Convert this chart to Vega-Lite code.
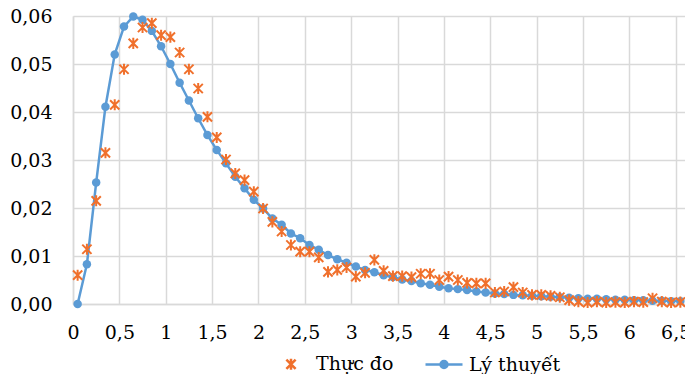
{
  "$schema": "https://vega.github.io/schema/vega-lite/v6.json",
  "width": 612,
  "height": 288,
  "autosize": "none",
  "padding": {"left": 73, "top": 16, "right": 0, "bottom": 70},
  "background": "white",
  "config": {
    "font": "DejaVu Serif",
    "view": {"stroke": null},
    "axis": {
      "labelFont": "DejaVu Serif",
      "labelFontSize": 19,
      "labelColor": "#000000",
      "gridColor": "#D9D9D9",
      "gridWidth": 1.5,
      "domainColor": "#D9D9D9",
      "domainWidth": 1.5,
      "ticks": false,
      "tickSize": 0,
      "title": null
    },
    "legend": {
      "labelFont": "DejaVu Serif",
      "labelFontSize": 19,
      "labelColor": "#000000"
    }
  },
  "data": {
    "values": [
      {"x": 0.05, "y": 0.0000, "series": "Lý thuyết"},
      {"x": 0.15, "y": 0.0083, "series": "Lý thuyết"},
      {"x": 0.25, "y": 0.0253, "series": "Lý thuyết"},
      {"x": 0.35, "y": 0.0411, "series": "Lý thuyết"},
      {"x": 0.45, "y": 0.0520, "series": "Lý thuyết"},
      {"x": 0.55, "y": 0.0578, "series": "Lý thuyết"},
      {"x": 0.65, "y": 0.0599, "series": "Lý thuyết"},
      {"x": 0.75, "y": 0.0592, "series": "Lý thuyết"},
      {"x": 0.85, "y": 0.0569, "series": "Lý thuyết"},
      {"x": 0.95, "y": 0.0537, "series": "Lý thuyết"},
      {"x": 1.05, "y": 0.0500, "series": "Lý thuyết"},
      {"x": 1.15, "y": 0.0461, "series": "Lý thuyết"},
      {"x": 1.25, "y": 0.0424, "series": "Lý thuyết"},
      {"x": 1.35, "y": 0.0387, "series": "Lý thuyết"},
      {"x": 1.45, "y": 0.0352, "series": "Lý thuyết"},
      {"x": 1.55, "y": 0.0321, "series": "Lý thuyết"},
      {"x": 1.65, "y": 0.0293, "series": "Lý thuyết"},
      {"x": 1.75, "y": 0.0265, "series": "Lý thuyết"},
      {"x": 1.85, "y": 0.0241, "series": "Lý thuyết"},
      {"x": 1.95, "y": 0.0217, "series": "Lý thuyết"},
      {"x": 2.05, "y": 0.0199, "series": "Lý thuyết"},
      {"x": 2.15, "y": 0.0178, "series": "Lý thuyết"},
      {"x": 2.25, "y": 0.0165, "series": "Lý thuyết"},
      {"x": 2.35, "y": 0.0147, "series": "Lý thuyết"},
      {"x": 2.45, "y": 0.0137, "series": "Lý thuyết"},
      {"x": 2.55, "y": 0.0123, "series": "Lý thuyết"},
      {"x": 2.65, "y": 0.0113, "series": "Lý thuyết"},
      {"x": 2.75, "y": 0.0102, "series": "Lý thuyết"},
      {"x": 2.85, "y": 0.0093, "series": "Lý thuyết"},
      {"x": 2.95, "y": 0.0086, "series": "Lý thuyết"},
      {"x": 3.05, "y": 0.0078, "series": "Lý thuyết"},
      {"x": 3.15, "y": 0.0071, "series": "Lý thuyết"},
      {"x": 3.25, "y": 0.0066, "series": "Lý thuyết"},
      {"x": 3.35, "y": 0.0060, "series": "Lý thuyết"},
      {"x": 3.45, "y": 0.0056, "series": "Lý thuyết"},
      {"x": 3.55, "y": 0.0051, "series": "Lý thuyết"},
      {"x": 3.65, "y": 0.0048, "series": "Lý thuyết"},
      {"x": 3.75, "y": 0.0043, "series": "Lý thuyết"},
      {"x": 3.85, "y": 0.0040, "series": "Lý thuyết"},
      {"x": 3.95, "y": 0.0036, "series": "Lý thuyết"},
      {"x": 4.05, "y": 0.0033, "series": "Lý thuyết"},
      {"x": 4.15, "y": 0.0031, "series": "Lý thuyết"},
      {"x": 4.25, "y": 0.0029, "series": "Lý thuyết"},
      {"x": 4.35, "y": 0.0026, "series": "Lý thuyết"},
      {"x": 4.45, "y": 0.0024, "series": "Lý thuyết"},
      {"x": 4.55, "y": 0.0022, "series": "Lý thuyết"},
      {"x": 4.65, "y": 0.0021, "series": "Lý thuyết"},
      {"x": 4.75, "y": 0.0019, "series": "Lý thuyết"},
      {"x": 4.85, "y": 0.0018, "series": "Lý thuyết"},
      {"x": 4.95, "y": 0.0017, "series": "Lý thuyết"},
      {"x": 5.05, "y": 0.0016, "series": "Lý thuyết"},
      {"x": 5.15, "y": 0.0015, "series": "Lý thuyết"},
      {"x": 5.25, "y": 0.0014, "series": "Lý thuyết"},
      {"x": 5.35, "y": 0.0013, "series": "Lý thuyết"},
      {"x": 5.45, "y": 0.0012, "series": "Lý thuyết"},
      {"x": 5.55, "y": 0.0011, "series": "Lý thuyết"},
      {"x": 5.65, "y": 0.0011, "series": "Lý thuyết"},
      {"x": 5.75, "y": 0.0010, "series": "Lý thuyết"},
      {"x": 5.85, "y": 0.0009, "series": "Lý thuyết"},
      {"x": 5.95, "y": 0.0009, "series": "Lý thuyết"},
      {"x": 6.05, "y": 0.0008, "series": "Lý thuyết"},
      {"x": 6.15, "y": 0.0008, "series": "Lý thuyết"},
      {"x": 6.25, "y": 0.0007, "series": "Lý thuyết"},
      {"x": 6.35, "y": 0.0007, "series": "Lý thuyết"},
      {"x": 6.45, "y": 0.0006, "series": "Lý thuyết"},
      {"x": 6.55, "y": 0.0006, "series": "Lý thuyết"},
      {"x": 0.05, "y": 0.0060, "series": "Thực đo"},
      {"x": 0.15, "y": 0.0114, "series": "Thực đo"},
      {"x": 0.25, "y": 0.0215, "series": "Thực đo"},
      {"x": 0.35, "y": 0.0315, "series": "Thực đo"},
      {"x": 0.45, "y": 0.0415, "series": "Thực đo"},
      {"x": 0.55, "y": 0.0489, "series": "Thực đo"},
      {"x": 0.65, "y": 0.0543, "series": "Thực đo"},
      {"x": 0.75, "y": 0.0576, "series": "Thực đo"},
      {"x": 0.85, "y": 0.0585, "series": "Thực đo"},
      {"x": 0.95, "y": 0.0560, "series": "Thực đo"},
      {"x": 1.05, "y": 0.0556, "series": "Thực đo"},
      {"x": 1.15, "y": 0.0524, "series": "Thực đo"},
      {"x": 1.25, "y": 0.0489, "series": "Thực đo"},
      {"x": 1.35, "y": 0.0449, "series": "Thực đo"},
      {"x": 1.45, "y": 0.0390, "series": "Thực đo"},
      {"x": 1.55, "y": 0.0347, "series": "Thực đo"},
      {"x": 1.65, "y": 0.0301, "series": "Thực đo"},
      {"x": 1.75, "y": 0.0272, "series": "Thực đo"},
      {"x": 1.85, "y": 0.0258, "series": "Thực đo"},
      {"x": 1.95, "y": 0.0234, "series": "Thực đo"},
      {"x": 2.05, "y": 0.0199, "series": "Thực đo"},
      {"x": 2.15, "y": 0.0171, "series": "Thực đo"},
      {"x": 2.25, "y": 0.0151, "series": "Thực đo"},
      {"x": 2.35, "y": 0.0123, "series": "Thực đo"},
      {"x": 2.45, "y": 0.0109, "series": "Thực đo"},
      {"x": 2.55, "y": 0.0109, "series": "Thực đo"},
      {"x": 2.65, "y": 0.0097, "series": "Thực đo"},
      {"x": 2.75, "y": 0.0067, "series": "Thực đo"},
      {"x": 2.85, "y": 0.0071, "series": "Thực đo"},
      {"x": 2.95, "y": 0.0076, "series": "Thực đo"},
      {"x": 3.05, "y": 0.0057, "series": "Thực đo"},
      {"x": 3.15, "y": 0.0065, "series": "Thực đo"},
      {"x": 3.25, "y": 0.0092, "series": "Thực đo"},
      {"x": 3.35, "y": 0.0069, "series": "Thực đo"},
      {"x": 3.45, "y": 0.0058, "series": "Thực đo"},
      {"x": 3.55, "y": 0.0058, "series": "Thực đo"},
      {"x": 3.65, "y": 0.0056, "series": "Thực đo"},
      {"x": 3.75, "y": 0.0063, "series": "Thực đo"},
      {"x": 3.85, "y": 0.0063, "series": "Thực đo"},
      {"x": 3.95, "y": 0.0050, "series": "Thực đo"},
      {"x": 4.05, "y": 0.0057, "series": "Thực đo"},
      {"x": 4.15, "y": 0.0050, "series": "Thực đo"},
      {"x": 4.25, "y": 0.0044, "series": "Thực đo"},
      {"x": 4.35, "y": 0.0043, "series": "Thực đo"},
      {"x": 4.45, "y": 0.0043, "series": "Thực đo"},
      {"x": 4.55, "y": 0.0024, "series": "Thực đo"},
      {"x": 4.65, "y": 0.0026, "series": "Thực đo"},
      {"x": 4.75, "y": 0.0035, "series": "Thực đo"},
      {"x": 4.85, "y": 0.0024, "series": "Thực đo"},
      {"x": 4.95, "y": 0.0019, "series": "Thực đo"},
      {"x": 5.05, "y": 0.0019, "series": "Thực đo"},
      {"x": 5.15, "y": 0.0017, "series": "Thực đo"},
      {"x": 5.25, "y": 0.0014, "series": "Thực đo"},
      {"x": 5.35, "y": 0.0008, "series": "Thực đo"},
      {"x": 5.45, "y": 0.0005, "series": "Thực đo"},
      {"x": 5.55, "y": 0.0003, "series": "Thực đo"},
      {"x": 5.65, "y": 0.0005, "series": "Thực đo"},
      {"x": 5.75, "y": 0.0003, "series": "Thực đo"},
      {"x": 5.85, "y": 0.0004, "series": "Thực đo"},
      {"x": 5.95, "y": 0.0003, "series": "Thực đo"},
      {"x": 6.05, "y": 0.0005, "series": "Thực đo"},
      {"x": 6.15, "y": 0.0004, "series": "Thực đo"},
      {"x": 6.25, "y": 0.0012, "series": "Thực đo"},
      {"x": 6.35, "y": 0.0005, "series": "Thực đo"},
      {"x": 6.45, "y": 0.0003, "series": "Thực đo"},
      {"x": 6.55, "y": 0.0004, "series": "Thực đo"}
    ]
  },
  "encoding": {
    "x": {
      "field": "x",
      "type": "quantitative",
      "scale": {"domain": [0, 6.6], "nice": false, "zero": false},
      "axis": {
        "values": [0, 0.5, 1, 1.5, 2, 2.5, 3, 3.5, 4, 4.5, 5, 5.5, 6, 6.5],
        "labelExpr": "replace(toString(datum.value), '.', ',')",
        "labelFont": "DejaVu Serif",
        "labelPadding": 19,
        "labelFlush": false,
        "labelOverlap": false,
        "grid": true
      }
    },
    "y": {
      "field": "y",
      "type": "quantitative",
      "scale": {"domain": [0, 0.06], "nice": false},
      "axis": {
        "values": [0, 0.01, 0.02, 0.03, 0.04, 0.05, 0.06],
        "labelExpr": "replace(format(datum.value, '.2f'), '.', ',')",
        "labelFont": "DejaVu Serif",
        "labelPadding": 21,
        "labelBaseline": "middle",
        "labelFlush": false,
        "labelOverlap": false,
        "grid": true
      }
    }
  },
  "layer": [
    {
      "transform": [{"filter": "datum.series === 'Lý thuyết'"}],
      "mark": {"type": "line", "color": "#5B9BD5", "strokeWidth": 2.5},
      "encoding": {}
    },
    {
      "transform": [{"filter": "datum.series === 'Lý thuyết'"}],
      "mark": {"type": "point", "shape": "circle", "filled": true, "color": "#5B9BD5", "size": 72, "opacity": 1},
      "encoding": {}
    },
    {
      "transform": [{"filter": "datum.series === 'Thực đo'"}],
      "mark": {"type": "point", "filled": false, "size": 1369, "strokeWidth": 2, "opacity": 1},
      "encoding": {
        "shape": {
          "field": "series",
          "type": "nominal",
          "scale": {
            "domain": ["Thực đo", "Lý thuyết"],
            "range": [
              "M-0.25,-0.25L0.25,0.25M-0.25,0.25L0.25,-0.25M0,-0.3L0,0.3",
              "M-1,0L1,0M-0.19,0A0.19,0.19 0 1,0 0.19,0A0.19,0.19 0 1,0 -0.19,0Z"
            ]
          },
          "legend": {
            "title": null,
            "orient": "none",
            "legendX": 198,
            "legendY": 328,
            "direction": "horizontal",
            "symbolSize": 1369,
            "symbolStrokeWidth": 2.5,
            "labelOffset": 5,
            "columnPadding": 26,
            "labelLimit": 300,
            "labelFont": "DejaVu Serif"
          }
        },
        "stroke": {
          "field": "series",
          "type": "nominal",
          "scale": {"domain": ["Thực đo", "Lý thuyết"], "range": ["#F0702C", "#5B9BD5"]}
        },
        "fill": {
          "field": "series",
          "type": "nominal",
          "scale": {"domain": ["Thực đo", "Lý thuyết"], "range": ["transparent", "#5B9BD5"]}
        }
      }
    }
  ]
}
